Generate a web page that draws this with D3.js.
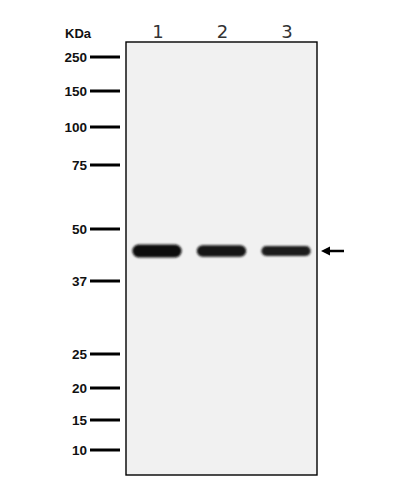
<!DOCTYPE html>
<html>
<head>
<meta charset="utf-8">
<script src="https://cdn.jsdelivr.net/npm/d3@7"></script>
<style>
  body { margin: 0; background: #fff; }
  svg { display: block; }
</style>
</head>
<body>
<div id="blot"></div>
<script>
// Datos del blot
const marcadores = [250, 150, 100, 75, 50, 37, 25, 20, 15, 10]
const carriles = ['1', '2', '3']
const bandaKDa = [44.5, 44.5, 44.5]
const bandaSenal = [1.0, 0.84, 0.72]
const bandaGris = ['#0e0e0e', '#121212', '#1c1c1c']

const ancho_total = 400
const alto_total = 488

// area de la membrana
const caja = { izq: 126, der: 317, sup: 42, inf: 475 }

svg = d3.select('#blot').append('svg')
  .attr('width', ancho_total)
  .attr('height', alto_total)

// escala de marcadores (calibrada con la escalera)
y = d3.scaleLinear()
  .domain(marcadores)
  .range([57, 91, 127, 165, 229, 281, 354, 388, 420, 450])

x = d3.scaleBand()
  .domain(carriles)
  .range([caja.izq, caja.der])
  .paddingInner(0.22)
  .paddingOuter(0.09)

grosor = d3.scaleLinear().domain([0, 1]).range([3, 13])

defs = svg.append('defs')
defs.append('filter').attr('id', 'difuso')
  .attr('x', '-20%').attr('y', '-60%').attr('width', '140%').attr('height', '220%')
  .append('feGaussianBlur').attr('stdDeviation', 1.2)

// membrana
svg.append('rect')
  .attr('x', caja.izq).attr('y', caja.sup)
  .attr('width', caja.der - caja.izq).attr('height', caja.inf - caja.sup)
  .attr('fill', '#f1f1f1')
  .attr('stroke', '#000').attr('stroke-width', 1.4)

// bandas
g = svg.append('g').attr('filter', 'url(#difuso)')
g.selectAll('rect.banda').data(carriles).enter()
  .append('rect')
  .attr('class', 'banda')
  .attr('x', d => x(d) + 0.5)
  .attr('width', x.bandwidth() - 1)
  .attr('y', (d, i) => y(bandaKDa[i]) - grosor(bandaSenal[i]) / 2)
  .attr('height', (d, i) => grosor(bandaSenal[i]))
  .attr('rx', (d, i) => grosor(bandaSenal[i]) / 2)
  .attr('fill', (d, i) => bandaGris[i])

// marcadores de peso molecular
svg.selectAll('line.marca').data(marcadores).enter()
  .append('line')
  .attr('x1', 90).attr('x2', 120)
  .attr('y1', d => y(d)).attr('y2', d => y(d))
  .attr('stroke', '#000').attr('stroke-width', 3)

svg.selectAll('text.marca').data(marcadores).enter()
  .append('text')
  .attr('x', 87).attr('y', d => y(d))
  .attr('dy', '0.36em')
  .attr('text-anchor', 'end')
  .style('font-family', 'Liberation Sans, Arial, sans-serif')
  .style('font-weight', 'bold')
  .style('font-size', '13.5px')
  .attr('fill', '#111')
  .text(d => d)

svg.append('text')
  .attr('x', 65).attr('y', 38)
  .style('font-family', 'Liberation Sans, Arial, sans-serif')
  .style('font-weight', 'bold')
  .style('font-size', '13px')
  .attr('fill', '#111')
  .text('KDa')

// etiquetas de carril
svg.selectAll('text.carril').data(carriles).enter()
  .append('text')
  .attr('x', d => x(d) + x.bandwidth() / 2 + 1)
  .attr('y', 38)
  .attr('text-anchor', 'middle')
  .style('font-family', 'DejaVu Sans, sans-serif')
  .style('font-size', '18px')
  .attr('fill', '#333')
  .text(d => d)

// flecha
const yf = y(bandaKDa[0])
svg.append('line')
  .attr('x1', 328).attr('x2', 344)
  .attr('y1', yf).attr('y2', yf)
  .attr('stroke', '#000').attr('stroke-width', 2.5)
svg.append('path')
  .attr('d', `M321,${yf} L330,${yf - 4.5} L330,${yf + 4.5} Z`)
  .attr('fill', '#000')
</script>
</body>
</html>
